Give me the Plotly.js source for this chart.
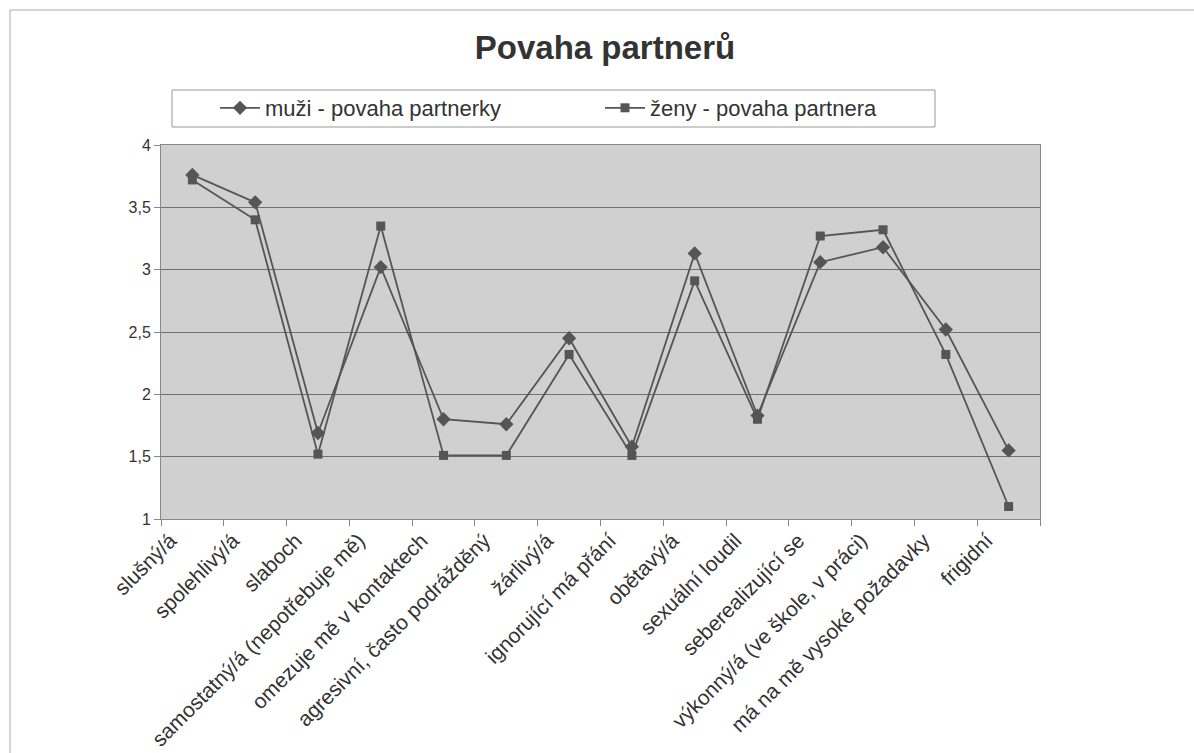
<!DOCTYPE html>
<html>
<head>
<meta charset="utf-8">
<script src="https://cdn.plot.ly/plotly-3.0.1.min.js"></script>
<style>
html,body{margin:0;padding:0;background:#fff;}
#chart{width:1194px;height:753px;}
</style>
</head>
<body>
<div id="chart"></div>
<script>
const categories = [
  "slušný/á",
  "spolehlivý/á",
  "slaboch",
  "samostatný/á (nepotřebuje mě)",
  "omezuje mě v kontaktech",
  "agresivní, často podrážděný",
  "žárlivý/á",
  "ignorující má přání",
  "obětavý/á",
  "sexuální loudil",
  "seberealizující se",
  "výkonný/á (ve škole, v práci)",
  "má na mě vysoké požadavky",
  "frigidní"
];
const muzi = [3.76, 3.54, 1.69, 3.02, 1.80, 1.76, 2.45, 1.58, 3.13, 1.83, 3.06, 3.18, 2.52, 1.55];
const zeny = [3.72, 3.40, 1.52, 3.35, 1.51, 1.51, 2.32, 1.51, 2.91, 1.80, 3.27, 3.32, 2.32, 1.10];
const seriesNames = ["muži - povaha partnerky", "ženy - povaha partnera"];
const yTicks = [1, 1.5, 2, 2.5, 3, 3.5, 4];

const L = 161, R = 1040, T = 145, B = 519, W = 1194, H = 753;
const pw = R - L, ph = B - T;
const px = v => (v - L) / pw;
const py = v => (B - v) / ph;

const lineColor = "#555555";
const font = "Liberation Sans, Arial, sans-serif";

const traces = [
  {
    x: categories, y: muzi, name: seriesNames[0], type: "scatter", mode: "lines+markers",
    line: {color: lineColor, width: 1.8},
    marker: {symbol: "diamond", size: 11, color: lineColor}
  },
  {
    x: categories, y: zeny, name: seriesNames[1], type: "scatter", mode: "lines+markers",
    line: {color: lineColor, width: 1.8},
    marker: {symbol: "square", size: 9, color: lineColor}
  }
];

const layout = {
  width: W, height: H,
  margin: {l: L, r: W - R, t: T, b: H - B, pad: 0},
  paper_bgcolor: "#ffffff",
  plot_bgcolor: "#d0d0d0",
  separators: ", ",
  font: {family: font, color: "#333"},
  title: {
    text: "<b>Povaha partnerů</b>",
    font: {family: font, size: 33, color: "#333"},
    x: 605 / W, xanchor: "center", xref: "container",
    y: 1 - 47 / H, yanchor: "middle", yref: "container"
  },
  showlegend: true,
  legend: {
    orientation: "h",
    x: px(215), xanchor: "left",
    y: py(108), yanchor: "middle",
    bgcolor: "rgba(0,0,0,0)",
    borderwidth: 0,
    itemwidth: 40,
    entrywidth: 330, entrywidthmode: "pixels",
    font: {family: font, size: 22, color: "#333"}
  },
  xaxis: {
    type: "category",
    range: [-0.5, categories.length - 0.5],
    tickangle: -45,
    tickson: "boundaries",
    ticks: "outside", ticklen: 6, tickcolor: "#888",
    showline: true, linecolor: "#888", linewidth: 1, mirror: true,
    showgrid: false, zeroline: false,
    automargin: false,
    ticklabelshift: -22,
    ticklabelstandoff: 0,
    tickfont: {family: font, size: 21, color: "#333"}
  },
  yaxis: {
    range: [1, 4],
    tickvals: yTicks,
    ticks: "outside", ticklen: 6, tickcolor: "#888",
    showline: true, linecolor: "#888", linewidth: 1, mirror: true,
    showgrid: true, gridcolor: "#6f6f6f", gridwidth: 1,
    zeroline: false,
    automargin: false,
    tickfont: {family: font, size: 16, color: "#333"}
  },
  shapes: [
    {type: "rect", xref: "paper", yref: "paper",
     x0: px(172), x1: px(935), y0: py(127), y1: py(90),
     line: {color: "#999", width: 1}, fillcolor: "rgba(0,0,0,0)", layer: "below"},
    {type: "line", xref: "paper", yref: "paper",
     x0: px(10), x1: px(1194), y0: py(10), y1: py(10),
     line: {color: "#aaa", width: 1}},
    {type: "line", xref: "paper", yref: "paper",
     x0: px(10), x1: px(10), y0: py(10), y1: py(753),
     line: {color: "#aaa", width: 1}}
  ]
};

Plotly.newPlot("chart", traces, layout, {staticPlot: true, displayModeBar: false});
</script>
</body>
</html>
